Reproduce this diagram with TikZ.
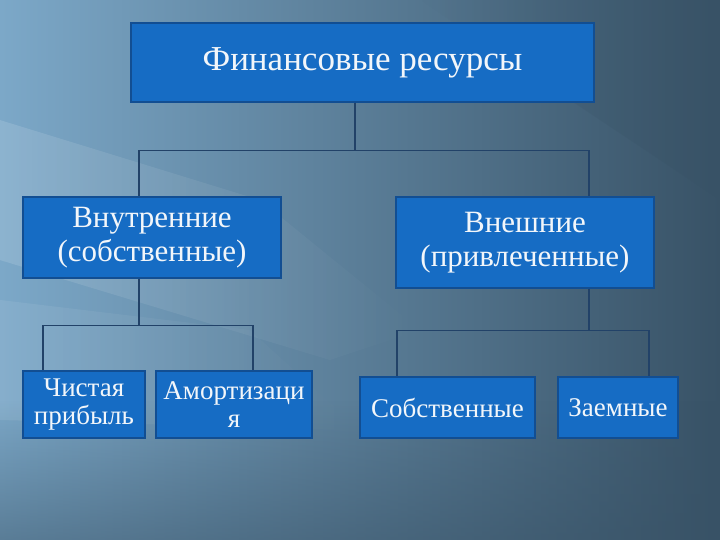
\documentclass[tikz,border=0pt]{standalone}
\usepackage{fontspec}
\setmainfont{Liberation Serif}
\usetikzlibrary{positioning, fadings}

\definecolor{bgdark}{RGB}{56,82,102}
\definecolor{bglight}{RGB}{124,168,200}
\definecolor{boxfill}{RGB}{22,108,196}
\definecolor{boxline}{RGB}{18,78,146}
\definecolor{linkcol}{RGB}{34,66,104}
\definecolor{txtcol}{RGB}{242,246,250}

\begin{document}
\begin{tikzpicture}[
  x=1pt, y=-1pt,
  every node/.style={font=\fontsize{31}{34}\selectfont},
  box/.style={
    rectangle, draw=boxline, line width=1.5pt, fill=boxfill,
    text=txtcol, align=center, inner sep=2pt
  },
  title/.style={
    box, font=\fontsize{35}{38}\selectfont
  },
  small/.style={
    box, font=\fontsize{27}{28}\selectfont
  },
  link/.style={
    draw=linkcol, line width=1.1pt
  }
]

% Background
\useasboundingbox (0,0) rectangle (720,540);
\shade[left color=bglight, right color=bgdark] (0,0) rectangle (720,540);
\fill[bgdark, opacity=0.5, path fading=north] (0,400) rectangle (720,540);
\fill[white, opacity=0.13, path fading=east] (0,120) -- (260,200) -- (420,330) -- (330,360) -- (0,260) -- cycle;
\fill[white, opacity=0.08, path fading=east] (0,300) -- (250,330) -- (360,430) -- (0,420) -- cycle;
\fill[bgdark, opacity=0.35, path fading=west] (420,0) -- (720,0) -- (720,200) -- cycle;

% Boxes
\node[title, minimum width=463pt, minimum height=79pt] (fin) at (362.5,62.5)
{Финансовые ресурсы};

\node[box, minimum width=258pt, minimum height=81pt] (vnut) at (152,237.5)
{Внутренние\\(собственные)};

\node[box, minimum width=258pt, minimum height=91pt] (vnesh) at (525,242.5)
{Внешние\\(привлеченные)};

\node[small, minimum width=122pt, minimum height=67pt] (prib) at (84,404.5)
{Чистая\\прибыль};

\node[small, minimum width=156pt, minimum height=67pt] (amort) at (234,404.5)
{Амортизаци\\я};

\node[small, minimum width=175pt, minimum height=61pt] (sobst) at (447.5,407.5)
{Собственные};

\node[small, minimum width=120pt, minimum height=61pt] (zaem) at (618,407.5)
{Заемные};

% Top level
\draw[link] ([xshift=-7.5pt]fin.south) -- ++(0,48) -| ([xshift=-13pt]vnut.north);
\draw[link] ([xshift=-7.5pt]fin.south) -- ++(0,48) -| ([xshift=64pt]vnesh.north);

% Internal sources
\draw[link] ([xshift=-13pt]vnut.south) -- ++(0,47) -| ([xshift=-41pt]prib.north);
\draw[link] ([xshift=-13pt]vnut.south) -- ++(0,47) -| ([xshift=19pt]amort.north);

% External sources
\draw[link] ([xshift=64pt]vnesh.south) -- ++(0,42) -| ([xshift=-50.5pt]sobst.north);
\draw[link] ([xshift=64pt]vnesh.south) -- ++(0,42) -| ([xshift=31pt]zaem.north);

\end{tikzpicture}
\end{document}
